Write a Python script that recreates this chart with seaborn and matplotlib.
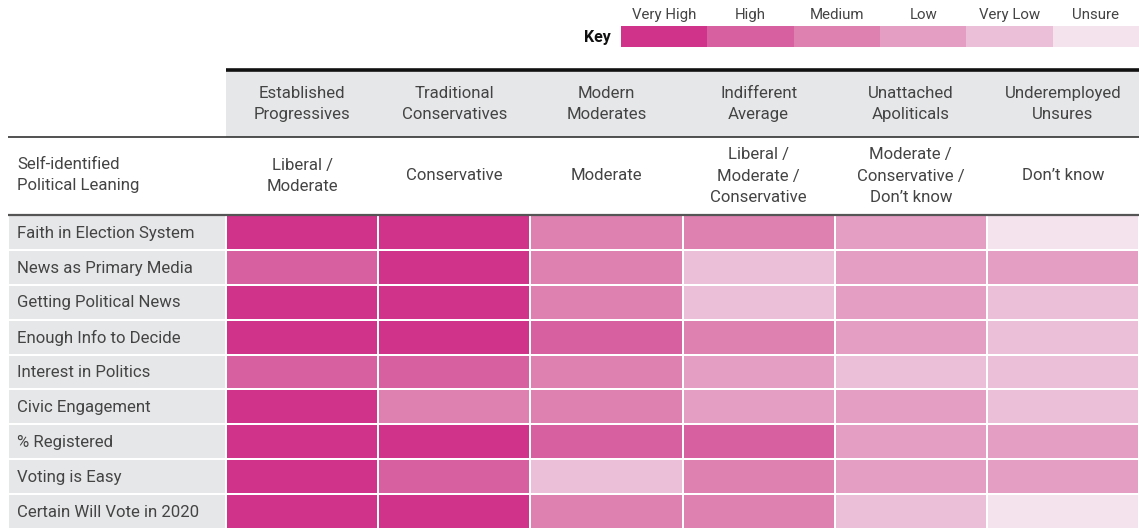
import numpy as np
import pandas as pd
import matplotlib
matplotlib.use("Agg")
import matplotlib.pyplot as plt
from matplotlib.colors import ListedColormap
from matplotlib.patches import Rectangle
import seaborn as sns

# ---- data -------------------------------------------------------------
segments = [
    "Established\nProgressives",
    "Traditional\nConservatives",
    "Modern\nModerates",
    "Indifferent\nAverage",
    "Unattached\nApoliticals",
    "Underemployed\nUnsures",
]
leanings = [
    "Liberal /\nModerate",
    "Conservative",
    "Moderate",
    "Liberal /\nModerate /\nConservative",
    "Moderate /\nConservative /\nDon\u2019t know",
    "Don\u2019t know",
]
measures = [
    "Faith in Election System",
    "News as Primary Media",
    "Getting Political News",
    "Enough Info to Decide",
    "Interest in Politics",
    "Civic Engagement",
    "% Registered",
    "Voting is Easy",
    "Certain Will Vote in 2020",
]
key_labels = ["Very High", "High", "Medium", "Low", "Very Low", "Unsure"]
key_colors = ["#cf338a", "#d660a0", "#de80b0", "#e59ec3", "#ebbfd7", "#f4e2ed"]

# level index into key_labels: 0 = Very High ... 5 = Unsure
levels = [
    [0, 0, 2, 2, 3, 5],
    [1, 0, 2, 4, 3, 3],
    [0, 0, 2, 4, 3, 4],
    [0, 0, 1, 2, 3, 4],
    [1, 1, 2, 3, 4, 4],
    [0, 2, 2, 3, 3, 4],
    [0, 0, 1, 1, 3, 3],
    [0, 1, 4, 2, 3, 3],
    [0, 0, 2, 2, 4, 5],
]

# ---- figure -----------------------------------------------------------
W, H = 1139, 529
fig = plt.figure(figsize=(W / 100, H / 100), dpi=100)
plt.rcParams["font.family"] = ["Roboto", "DejaVu Sans"]
TXT = "#444444"
GRAY = "#e6e7e9"
FS = 12.1
WT = "normal"


def box(x0, y0, x1, y1):
    return [x0 / W, 1 - y1 / H, (x1 - x0) / W, (y1 - y0) / H]


cmap = ListedColormap(key_colors)
df = pd.DataFrame(levels, index=measures, columns=segments)

# main grid
ax_hm = fig.add_axes(box(226, 215, W, H))
sns.heatmap(df, cmap=cmap, vmin=-0.5, vmax=5.5, linewidths=1.2,
            linecolor="white", cbar=False, ax=ax_hm,
            xticklabels=False, yticklabels=False)
ax_hm.set_xlabel("")
ax_hm.set_ylabel("")

# row-label column
ax_lbl = fig.add_axes(box(8, 215, 226, H))
sns.heatmap(np.zeros((len(measures), 1)), cmap=ListedColormap([GRAY]),
            linewidths=1.2, linecolor="white", cbar=False, ax=ax_lbl,
            xticklabels=False, yticklabels=False)
for i, m in enumerate(measures):
    ax_lbl.text(0.042, i + 0.52, m, ha="left", va="center", fontsize=FS,
                color=TXT, fontweight=WT)

# key strip
ax_key = fig.add_axes(box(621, 26, W, 47))
sns.heatmap(np.arange(len(key_labels))[None, :], cmap=cmap, vmin=-0.5,
            vmax=5.5, cbar=False, ax=ax_key, linewidths=0,
            xticklabels=False, yticklabels=False)
for i, lab in enumerate(key_labels):
    ax_key.text(i + 0.5, -0.18, lab, ha="center", va="bottom", fontsize=10.8,
                color=TXT, fontweight=WT)
ax_key.text(-0.12, 0.55, "Key", ha="right", va="center", fontsize=11.5,
            fontweight="bold", color="#111111")

# header overlay in pixel coordinates
ov = fig.add_axes([0, 0, 1, 1], zorder=-1)
ov.set_xlim(0, W)
ov.set_ylim(H, 0)
ov.axis("off")
ov.add_patch(Rectangle((226, 70), W - 226, 67, color=GRAY, lw=0))

ln = fig.add_axes([0, 0, 1, 1], zorder=5)
ln.set_xlim(0, W)
ln.set_ylim(H, 0)
ln.axis("off")
ln.plot([226, W], [69.5, 69.5], color="#111111", lw=2.6,
        solid_capstyle="butt")
ln.plot([8, W], [137, 137], color="#222222", lw=1.1, solid_capstyle="butt")
ln.plot([8, W], [215, 215], color="#555555", lw=1.6, solid_capstyle="butt")

colw = (W - 226) / len(segments)
for j, (seg, lean) in enumerate(zip(segments, leanings)):
    cx = 226 + colw * (j + 0.5)
    ln.text(cx, 104, seg, ha="center", va="center", fontsize=FS, color=TXT,
            fontweight=WT, linespacing=1.5)
    ln.text(cx, 176, lean, ha="center", va="center", fontsize=FS, color=TXT,
            fontweight=WT, linespacing=1.5)
ln.text(17, 175, "Self-identified\nPolitical Leaning", ha="left",
        va="center", fontsize=FS, color=TXT, fontweight=WT,
        linespacing=1.5)

fig.savefig("out.png", dpi=100)
